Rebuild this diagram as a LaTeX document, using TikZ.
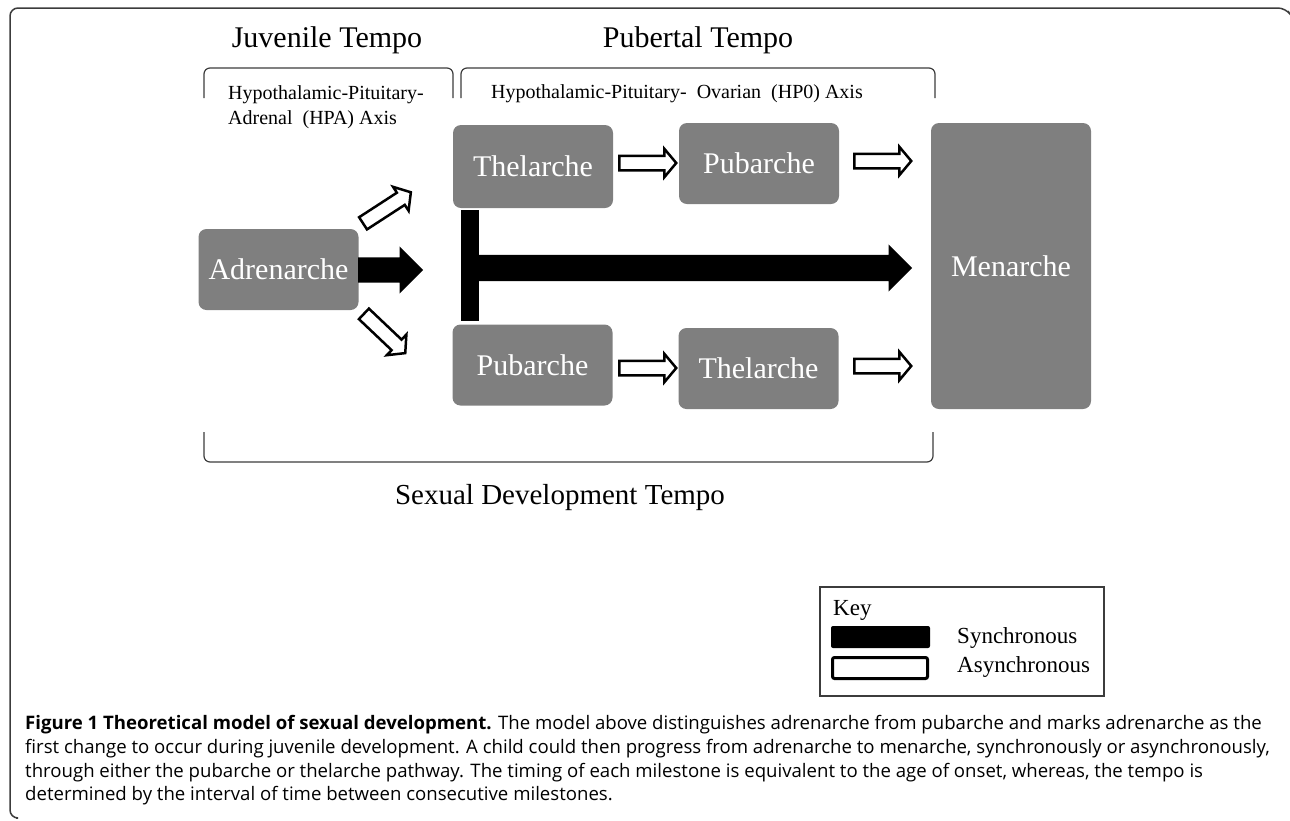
\documentclass[tikz,border=0pt]{standalone}
\usepackage{fontspec}
\setmainfont{Liberation Serif}
\newfontfamily\capfont{Open Sans}
\usepackage{tikz}
\usetikzlibrary{shapes.arrows}
\definecolor{boxgray}{RGB}{127,127,127}
\definecolor{linegray}{RGB}{60,60,60}
\tikzset{
  stage/.style={fill=boxgray, rounded corners=8pt, text=white, inner sep=0pt,
    minimum width=160pt, font=\fontsize{30}{30}\selectfont},
  async/.style={single arrow, draw=black, fill=white, line width=2.5pt, inner sep=6pt,
    single arrow head extend=7pt, single arrow tip angle=100, minimum height=57pt, anchor=tail},
  sync/.style={single arrow, fill=black, inner sep=12.5pt, single arrow head extend=11pt,
    single arrow tip angle=90, anchor=tail},
  brace/.style={draw=linegray, line width=1.2pt, rounded corners=6pt},
  tempo/.style={font=\fontsize{30}{30}\selectfont},
  axis/.style={font=\fontsize{20}{25}\selectfont, align=left, inner sep=0pt},
  capline/.style={anchor=base west, inner sep=0pt, font=\capfont\fontsize{18.6}{23}\selectfont}
}

\begin{document}
\begin{tikzpicture}[x=1pt, y=-1pt]
\useasboundingbox (0,0) rectangle (1290,820);
\draw[linegray, line width=1.5pt, rounded corners=8pt] (16,818) -- (10,818) -- (10,8) -- (1286,8) -- (1288,11);

% headings and braces
\node[tempo] (juv) at (327,40) {Juvenile Tempo};
\node[tempo] (pub) at (698,40) {Pubertal Tempo};
\draw[brace] (204,98) -- (204,68) -- (453,68) -- (453,98);
\draw[brace] (461,98) -- (461,68) -- (935,68) -- (935,98);
\node[axis, anchor=west] (hpa) at (228,107) {Hypothalamic-Pituitary-\\Adrenal~~(HPA) Axis};
\node[axis] (hpo) at (677,94) {Hypothalamic-Pituitary-~~Ovarian~~(HP0) Axis};

% milestones
\node[stage, minimum height=81pt] (adren) at (278.5,269.5) {Adrenarche};
\node[stage, minimum height=83pt] (thel1) at (533,166.5) {Thelarche};
\node[stage, minimum height=81pt] (pub1) at (759,163.5) {Pubarche};
\node[stage, minimum height=81pt] (pub2) at (532.5,365) {Pubarche};
\node[stage, minimum height=81pt] (thel2) at (758.5,368.5) {Thelarche};
\node[stage, minimum height=286pt] (menar) at (1011,266) {Menarche};

% synchronous path
\node[sync, minimum height=65pt] (s1) at (358,270) {};
\node[fill=black, minimum width=18pt, minimum height=111pt, inner sep=0pt] (tbar) at (470,265.5) {};
\node[sync, inner sep=13pt, single arrow head extend=10.5pt, minimum height=434pt] (s2) at (478,268) {};

% asynchronous paths
\node[async, rotate=33] (a0) at (362,224) {};
\node[async, rotate=-43.5] (a5) at (363,313) {};
\node[async] (a1) at (618,163) {};
\node[async] (a2) at (853,161) {};
\node[async] (a3) at (618,368) {};
\node[async] (a4) at (853,366) {};

\draw[brace] (204,432) -- (204,462) -- (933,462) -- (933,432);
\node[tempo, font=\fontsize{29}{29}\selectfont] (sdt) at (560,498) {Sexual Development Tempo};

% key
\draw[linegray, line width=1.3pt] (820,587) rectangle (1104,696);
\node[font=\fontsize{23}{23}\selectfont, anchor=west, inner sep=0pt] (key) at (833,610) {Key};
\node[fill=black, rounded corners=2pt, minimum width=99pt, minimum height=22pt, inner sep=0pt] (ksync) at (880.5,637) {};
\node[draw=black, line width=3pt, fill=white, rounded corners=2pt, minimum width=95pt, minimum height=21pt, inner sep=0pt] (kasync) at (880,668) {};
\node[font=\fontsize{23}{23}\selectfont, anchor=west, inner sep=0pt] (lsync) at (957,638) {Synchronous};
\node[font=\fontsize{23}{23}\selectfont, anchor=west, inner sep=0pt] (lasync) at (957,667) {Asynchronous};

% caption
\node[capline] (c1) at (25,729) {\textbf{Figure 1 Theoretical model of sexual development.} The model above distinguishes adrenarche from pubarche and marks adrenarche as the};
\node[capline] (c2) at (25,753) {first change to occur during juvenile development. A child could then progress from adrenarche to menarche, synchronously or asynchronously,};
\node[capline] (c3) at (25,777) {through either the pubarche or thelarche pathway. The timing of each milestone is equivalent to the age of onset, whereas, the tempo is};
\node[capline] (c4) at (25,800) {determined by the interval of time between consecutive milestones.};
\end{tikzpicture}
\end{document}
